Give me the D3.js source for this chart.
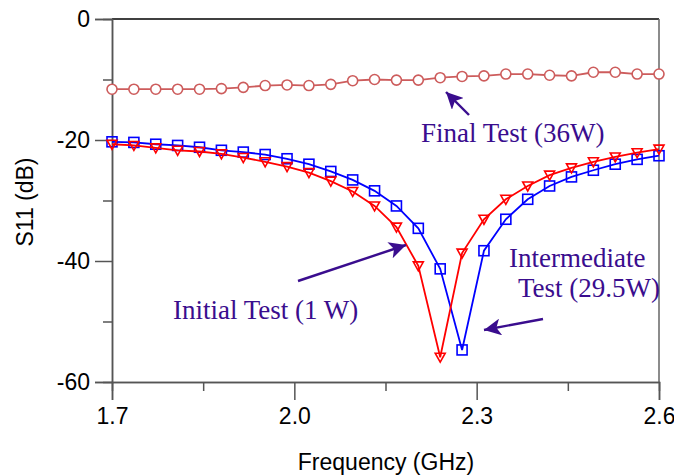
<!DOCTYPE html>
<html>
  <head>
    <meta charset="utf-8">
    <title>S11 vs Frequency</title>
    <style>
      body { margin: 0; background: #fff; }
      .note { font-family: "Liberation Serif", "Times New Roman", serif; font-size: 27px; fill: #3a0d8e; }
      .title { font-family: "Liberation Sans", Arial, sans-serif; font-size: 23px; fill: #000; }
    </style>
  </head>
  <body>
    <svg width="674" height="476"></svg>
    <script src="https://d3js.org/d3.v7.min.js"></script>
    <script>
      // frequency grid (GHz), 26 points 1.7 .. 2.6
      const freq = [1.7, 1.736, 1.772, 1.808, 1.844, 1.88, 1.916, 1.952, 1.988, 2.024, 2.06, 2.096, 2.132,
                    2.168, 2.204, 2.24, 2.276, 2.312, 2.348, 2.384, 2.42, 2.456, 2.492, 2.528, 2.564, 2.6];
      // S11 (dB)
      const initialTest = [-20.7, -20.9, -21.3, -21.7, -21.9, -22.3, -22.9, -23.6, -24.4, -25.4, -26.8, -28.5, -30.9,
                           -34.4, -40.8, -55.9, -38.7, -33.1, -29.8, -27.6, -25.8, -24.6, -23.6, -22.8, -22.1, -21.5];
      const intermediateTest = [-20.3, -20.4, -20.7, -20.9, -21.2, -21.7, -22.0, -22.4, -23.1, -24.0, -25.2, -26.6, -28.4,
                                -30.9, -34.6, -41.3, -54.7, -38.3, -33.1, -29.8, -27.6, -26.1, -25.0, -24.0, -23.2, -22.6];
      const finalTest = [-11.6, -11.6, -11.6, -11.6, -11.6, -11.5, -11.3, -11.0, -10.9, -11.0, -10.8, -10.2, -10.0,
                         -10.1, -10.1, -9.7, -9.5, -9.4, -9.1, -9.1, -9.3, -9.4, -8.8, -8.8, -9.1, -9.1];
      const xMajor = [1.7, 2.0, 2.3, 2.6];
      const xMinor = [1.85, 2.15, 2.45];
      const yMajor = [0, -20, -40, -60];
      const yMinor = [-10, -30, -50];

      const svg = d3.select("svg");
      const mLeft = 112, mTop = 19, w = 547, h = 363;

      const x = d3.scaleLinear().domain([1.7, 2.6]).range([mLeft, mLeft + w]);
      const y = d3.scaleLinear().domain([-60, 0]).range([mTop + h, mTop]);

      // frame lines (top black, right grey)
      svg.append("line").attr("x1", mLeft).attr("x2", mLeft + w).attr("y1", mTop).attr("y2", mTop)
        .attr("stroke", "#000").attr("stroke-width", 1.5);
      svg.append("line").attr("x1", mLeft + w).attr("x2", mLeft + w).attr("y1", mTop).attr("y2", mTop + h)
        .attr("stroke", "#666").attr("stroke-width", 1.5);

      // plain hyphen for negatives, like the source
      const yFmt = d => String(d);

      // y axis
      svg.append("g").attr("transform", `translate(${mLeft},0)`)
        .call(d3.axisLeft(y).tickValues(yMajor).tickSize(17).tickPadding(5).tickFormat(yFmt));
      svg.append("g").attr("transform", `translate(${mLeft},0)`)
        .call(d3.axisLeft(y).tickValues(yMinor).tickSize(9).tickFormat(""));
      // x axis
      svg.append("g").attr("transform", `translate(0,${mTop + h})`)
        .call(d3.axisBottom(x).tickValues(xMajor).tickSize(18).tickPadding(8).tickFormat(d3.format(".1f")));
      svg.append("g").attr("transform", `translate(0,${mTop + h})`)
        .call(d3.axisBottom(x).tickValues(xMinor).tickSize(9).tickFormat(""));
      svg.selectAll(".domain").attr("stroke", "#555").attr("stroke-width", 1.5);
      svg.selectAll(".tick line").attr("stroke", "#555").attr("stroke-width", 1.5);
      svg.selectAll(".tick text")
        .style("font-family", "'Liberation Sans', Arial, sans-serif")
        .style("font-size", "23px").attr("fill", "#000");

      // axis titles
      svg.append("text").attr("class", "title").attr("transform", "translate(33,202) rotate(-90)")
        .attr("text-anchor", "middle").text("S11 (dB)");
      svg.append("text").attr("class", "title").attr("x", 386).attr("y", 470)
        .attr("text-anchor", "middle").text("Frequency (GHz)");

      // series
      function draw(vals, color, marker) {
        const pts = freq.map((f, i) => [f, vals[i]]);
        svg.append("path").datum(pts)
          .attr("fill", "none").attr("stroke", color).attr("stroke-width", 1.8)
          .attr("d", d3.line().x(d => x(d[0])).y(d => y(d[1])));
        const g = svg.append("g");
        pts.forEach(d => {
          const cx = x(d[0]), cy = y(d[1]);
          if (marker === "circle") {
            g.append("circle").attr("cx", cx).attr("cy", cy).attr("r", 5)
              .attr("fill", "#fff").attr("stroke", color).attr("stroke-width", 1.6);
          } else if (marker === "square") {
            g.append("rect").attr("x", cx - 5).attr("y", cy - 5).attr("width", 10).attr("height", 10)
              .attr("fill", "none").attr("stroke", color).attr("stroke-width", 1.6);
          } else {
            g.append("path").attr("d", `M${cx - 5},${cy - 4}L${cx + 5},${cy - 4}L${cx},${cy + 5}Z`)
              .attr("fill", "none").attr("stroke", color).attr("stroke-width", 1.6);
          }
        });
      }
      draw(finalTest, "#cd5c5c", "circle");
      draw(intermediateTest, "#0000ff", "square");
      draw(initialTest, "#ff0000", "triangle");

      // annotations
      const ink = "#3a0d8e";
      svg.append("defs").append("marker").attr("id", "head")
        .attr("viewBox", "0 0 10 10").attr("refX", 10).attr("refY", 5)
        .attr("markerWidth", 7).attr("markerHeight", 7).attr("markerUnits", "strokeWidth")
        .attr("orient", "auto")
        .append("path").attr("d", "M0,0L10,5L0,10L2.5,5Z").attr("fill", ink);
      const arrows = [[469, 115, 446, 92], [298, 281, 406, 245], [543, 319, 484, 330]];
      arrows.forEach(a => {
        svg.append("line").attr("x1", a[0]).attr("y1", a[1]).attr("x2", a[2]).attr("y2", a[3])
          .attr("stroke", ink).attr("stroke-width", 2.4).attr("marker-end", "url(#head)");
      });
      svg.append("text").attr("class", "note").attr("x", 421).attr("y", 142).text("Final Test (36W)");
      svg.append("text").attr("class", "note").attr("x", 173).attr("y", 319).text("Initial Test (1 W)");
      svg.append("text").attr("class", "note").attr("x", 509).attr("y", 267).text("Intermediate");
      svg.append("text").attr("class", "note").attr("x", 518).attr("y", 297).text("Test (29.5W)");
    </script>
  </body>
</html>
